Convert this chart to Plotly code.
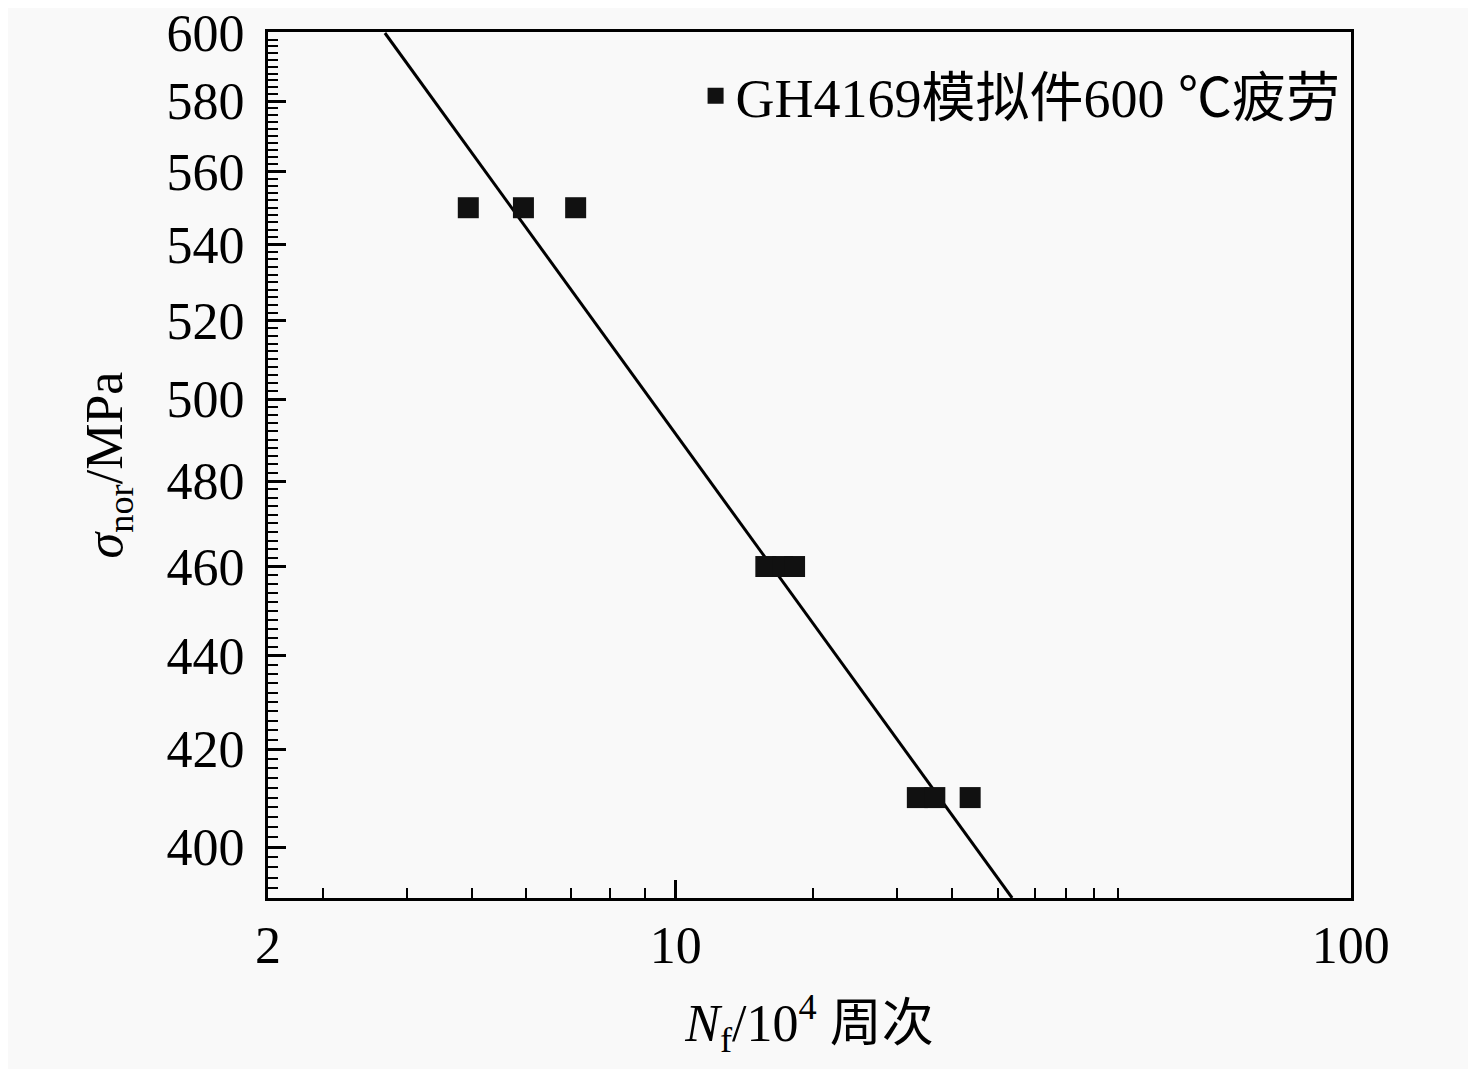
import numpy as np
import plotly.graph_objects as go

# fatigue test points (N_f in 10^4 cycles, stress in MPa)
life_550 = [4.93, 5.95, 7.11]
life_460 = [13.6, 14.4, 15.0]
life_410 = [22.8, 24.2, 27.3]
stress_levels = [550, 460, 410]

# fitted S-N line end points
fit_life = [3.71, 31.5]
fit_stress = [600, 390]

legend_name = "GH4169模拟件600 ℃疲劳"
x_tick_vals = [2.49, 10, 100]
x_tick_text = ["2", "10", "100"]
y_tick_vals = [400, 420, 440, 460, 480, 500, 520, 540, 560, 580, 600]

life = life_550 + life_460 + life_410
stress = [s for s, grp in zip(stress_levels, [life_550, life_460, life_410]) for _ in grp]

font_main = "Liberation Serif, Times New Roman, Noto Sans CJK SC"

fig = go.Figure()

# fitted line
fig.add_trace(go.Scatter(
    x=fit_life, y=fit_stress, mode="lines",
    line=dict(color="black", width=3),
    showlegend=False))

# test points
fig.add_trace(go.Scatter(
    x=life, y=stress, mode="markers", name=legend_name,
    marker=dict(symbol="square", size=21, color="#111111")))

x_minor = [3, 4, 5, 6, 7, 8, 9, 16, 21.3, 25.7, 30, 34.1, 37.8, 41.6, 45.2]
y_minor = list(range(392, 600, 2))

# page body has an 8px margin, so the figure is a bit smaller than the window
fig.update_layout(
    width=1468, height=1061,
    paper_bgcolor="#f9f9f9", plot_bgcolor="#f9f9f9",
    margin=dict(l=260, r=125, t=24, b=171, autoexpand=False),
    font=dict(family=font_main, size=52, color="black"),
    legend=dict(x=0.995, y=0.926, xanchor="right", yanchor="middle",
                bgcolor="rgba(0,0,0,0)", font=dict(size=54),
                itemsizing="trace"),
    xaxis=dict(
        type="log", range=[np.log10(2.49), np.log10(100.05)], automargin=False,
        tickmode="array", tickvals=x_tick_vals, ticktext=x_tick_text,
        ticks="inside", ticklen=18, tickwidth=2.5, tickcolor="black",
        ticklabelstandoff=0, ticklabeloverflow="allow",
        minor=dict(tickmode="array", tickvals=x_minor, ticks="inside",
                   ticklen=10, tickwidth=2, tickcolor="black", showgrid=False),
        showline=True, linecolor="black", linewidth=3, mirror=True,
        showgrid=False, zeroline=False,
        title=dict(text="<i>N</i><sub>f</sub>/10<sup>4</sup> 周次",
                   font=dict(size=52), standoff=32)),
    yaxis=dict(
        type="log", range=[np.log10(390), np.log10(600.3)], automargin=False,
        tickmode="array", tickvals=y_tick_vals,
        ticks="inside", ticklen=18, tickwidth=2.5, tickcolor="black",
        ticklabelstandoff=10, ticklabeloverflow="allow",
        minor=dict(tickmode="array", tickvals=y_minor, ticks="inside",
                   ticklen=10, tickwidth=2, tickcolor="black", showgrid=False),
        showline=True, linecolor="black", linewidth=3, mirror=True,
        showgrid=False, zeroline=False,
        title=dict(text="<i>σ</i><sub>nor</sub>/MPa",
                   font=dict(size=52), standoff=28)),
)

fig.write_html("out.html")
